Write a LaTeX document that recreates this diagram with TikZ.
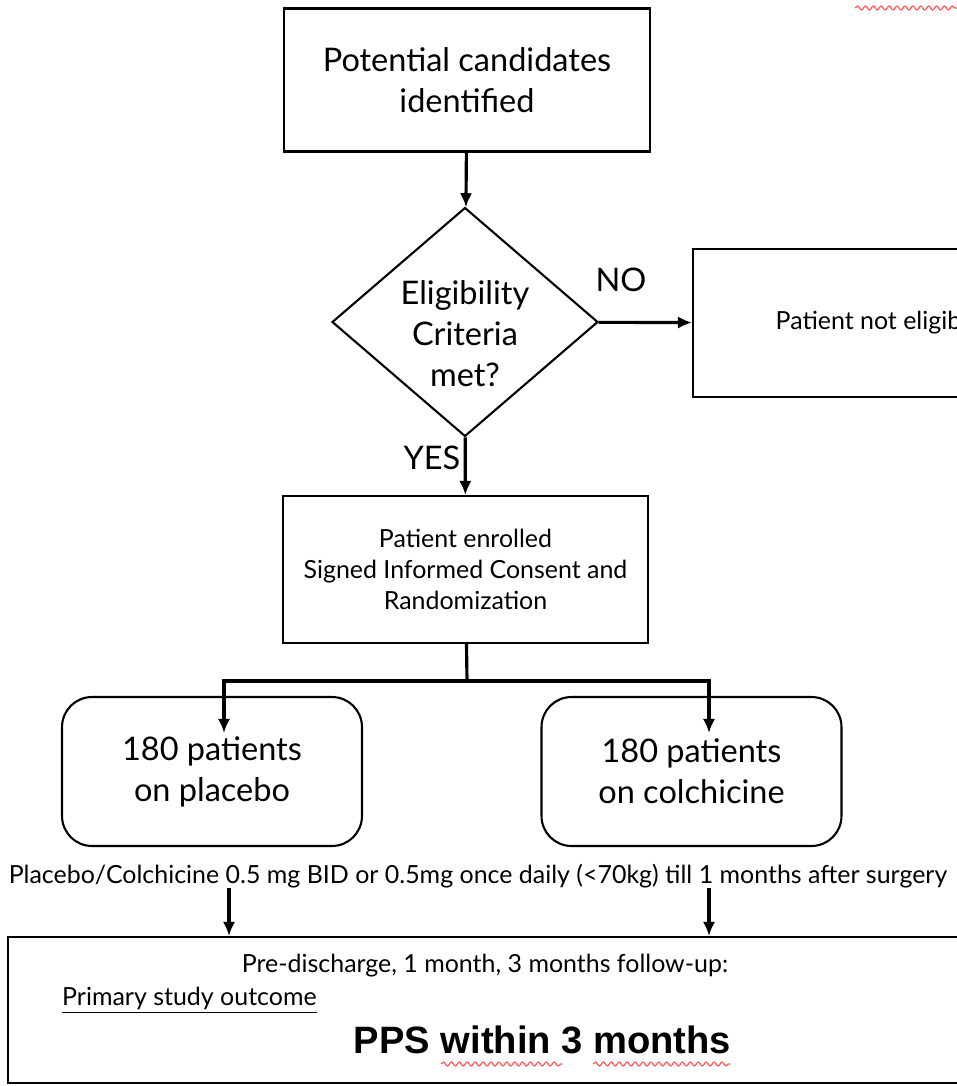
\documentclass[tikz,border=0pt]{standalone}
\usepackage{fontspec}
\setmainfont{Lato}
\newfontfamily\arialfont{Liberation Sans}
\usetikzlibrary{shapes.geometric,arrows.meta,decorations.pathmorphing}

\tikzset{
  >={Latex[length=8pt,width=7pt]},
  box/.style={draw, line width=1.2pt, align=center},
  roundbox/.style={draw, line width=1.2pt, rounded corners=0.6cm, align=center,
    minimum width=6cm, minimum height=2.98cm},
  decision/.style={draw, diamond, line width=1.2pt, inner sep=0pt,
    minimum width=5.32cm, minimum height=4.58cm},
  flow/.style={line width=1.8pt},
  bigtext/.style={font=\fontsize{18.5}{23.3}\selectfont},
  smalltext/.style={font=\fontsize{14.2}{17.6}\selectfont},
  squiggle/.style={draw=red!65, line width=0.7pt, decorate,
    decoration={snake, amplitude=1.1pt, segment length=4.5pt}}
}

\begin{document}
\begin{tikzpicture}[x=0.02cm, y=-0.02cm]
      \clip (0,0) rectangle (957,1086);
      % Triagem
      \node[box, bigtext, minimum width=7.32cm, minimum height=2.86cm] (cand) at (467,80)
        {Potential candidates\\identified};
      \node[decision] (elig) at (465,322) {};
      \node[bigtext, align=center] (eligtext) at (465,334) {Eligibility\\Criteria\\met?};
      \node[box, smalltext, minimum width=7.4cm, minimum height=2.96cm] (notelig) at (878,323)
        {Patient not eligible};
      \node[box, smalltext, minimum width=7.3cm, minimum height=2.94cm] (enrol) at (465.5,569.5)
        {Patient enrolled\\Signed Informed Consent and\\Randomization};
      \node[bigtext] (no) at (621,280) {NO};
      \node[bigtext] (yes) at (432,458) {YES};

      % Grupos
      \node[roundbox, bigtext] (placebo) at (212,771.5) {180 patients\\on placebo};
      \node[roundbox, bigtext] (colch) at (691.5,771.5) {180 patients\\on colchicine};
      \node[smalltext] (dose) at (478,876)
        {Placebo/Colchicine 0.5 mg BID or 0.5mg once daily (<70kg) till 1 months after surgery};

      % Desfecho
      \node[box, minimum width=19.84cm, minimum height=2.92cm] (outcome) at (504,1010) {};
      \node[smalltext] (follow) at (485,966) {Pre-discharge, 1 month, 3 months follow-up:};
      \node[smalltext, anchor=west] (primary) at (56,1000) {\underline{Primary study outcome}};
      \node[font=\arialfont\bfseries\fontsize{21.7}{26}\selectfont] (pps) at (542.5,1040)
        {PPS within 3 months};

      % Setas
      \coordinate (split) at (467,681);
      \coordinate (toplacebo) at (224,733);
      \coordinate (tocolch) at (709,733);
      \coordinate (fromplacebo) at (229,888);
      \coordinate (fromcolch) at (709,888);
      \draw[flow, ->] (cand) -- (elig);
      \draw[flow, ->] (elig) -- (notelig);
      \draw[flow, ->] (elig) -- (enrol);
      \draw[flow] (enrol) -- (split);
      \draw[flow, ->] (split) -| (toplacebo);
      \draw[flow, ->] (split) -| (tocolch);
      \draw[flow, ->] (fromplacebo) -- (fromplacebo |- outcome.north);
      \draw[flow, ->] (fromcolch) -- (fromcolch |- outcome.north);

      % marcas do corretor
      \draw[squiggle] (441,1064) -- (562,1064);
      \draw[squiggle] (593,1064) -- (730,1064);
      \draw[squiggle] (855,8) -- (957,8);
\end{tikzpicture}
\end{document}
